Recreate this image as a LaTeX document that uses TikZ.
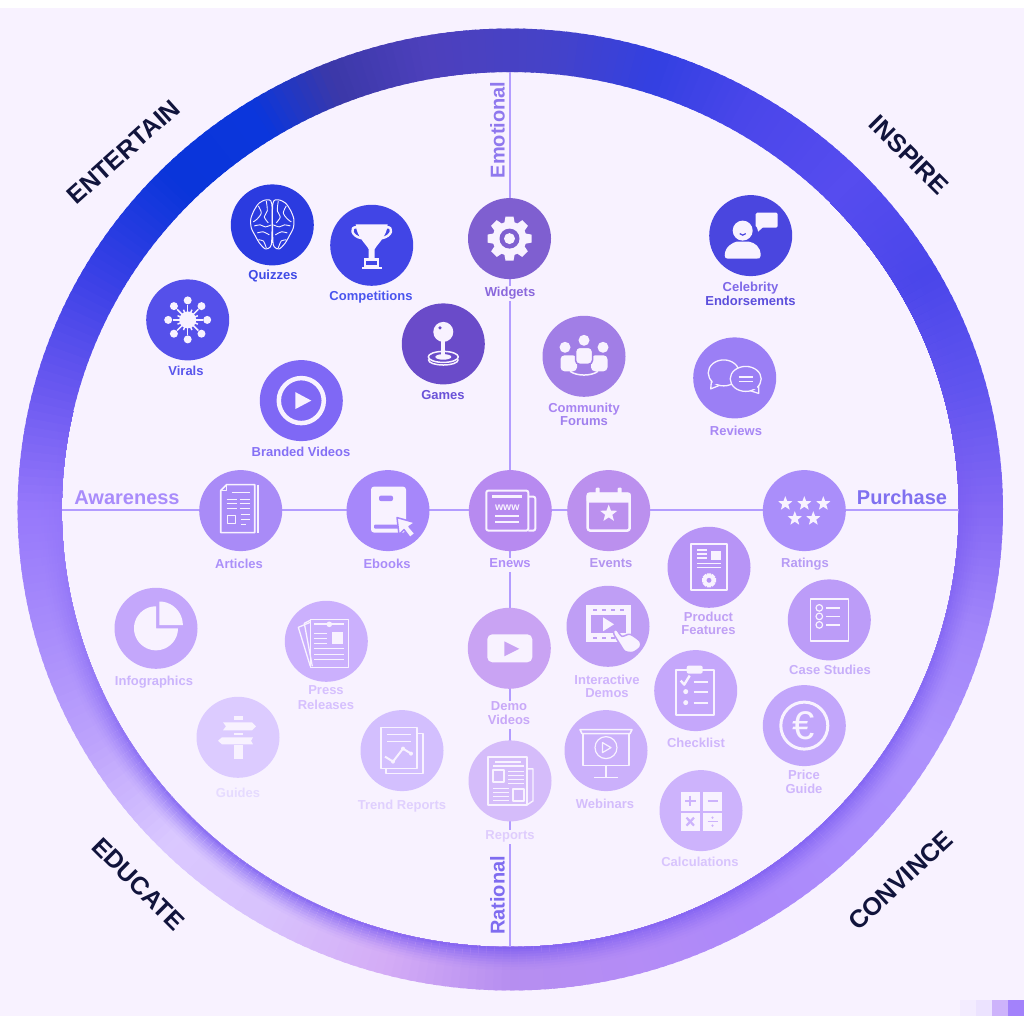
\documentclass[tikz,border=0pt]{standalone}
\usepackage{fontspec}
\usetikzlibrary{shapes.geometric}
\setmainfont{Liberation Sans}
\definecolor{bgc}{HTML}{F8F2FF}
\definecolor{ik}{HTML}{F8F2FF}
\definecolor{axc}{HTML}{B39CFF}
\definecolor{shd}{HTML}{7456F0}
\definecolor{navy}{HTML}{11143C}
\definecolor{r0}{HTML}{8468F4}\definecolor{r15}{HTML}{6054EF}\definecolor{r30}{HTML}{4A46EA}
\definecolor{r45}{HTML}{564CEF}\definecolor{r60}{HTML}{4A46EA}\definecolor{r72}{HTML}{3340E2}
\definecolor{r85}{HTML}{4542C8}\definecolor{r100}{HTML}{4D40BC}\definecolor{r112}{HTML}{3B38A8}
\definecolor{r122}{HTML}{0B36DC}\definecolor{r135}{HTML}{0A35DA}\definecolor{r150}{HTML}{3A40E6}
\definecolor{r165}{HTML}{6A58F0}\definecolor{r180}{HTML}{9678FB}\definecolor{r195}{HTML}{A88CFB}
\definecolor{r210}{HTML}{BDA3FC}\definecolor{r225}{HTML}{DAC8FF}\definecolor{r240}{HTML}{D8C2FD}
\definecolor{r255}{HTML}{D4ACF6}\definecolor{r270}{HTML}{B68EF0}\definecolor{r285}{HTML}{B48CF6}
\definecolor{r300}{HTML}{AC88FA}\definecolor{r315}{HTML}{AC8EFC}\definecolor{r330}{HTML}{AD92FC}
\definecolor{r345}{HTML}{A286FA}
\def\cx{510.3}\def\cy{509.5}
\tikzset{
  bub/.style={ellipse,minimum width=83pt,minimum height=81pt,inner sep=0pt,draw=none,yshift=-0.6pt},
  lab/.style={font=\bfseries\fontsize{13}{13}\selectfont,align=center,fill=bgc,inner sep=0.5pt,yshift=-1.5pt},
  axlab/.style={font=\bfseries\fontsize{20}{20}\selectfont,inner sep=0pt},
  corner/.style={font=\bfseries\fontsize{25}{25}\selectfont,text=navy,inner sep=0pt},
  il/.style={draw=ik,line width=1.3pt,line join=round},
  ifl/.style={fill=ik,draw=none},
  icut/.style={fill=cc,draw=none},
  cutl/.style={draw=cc,line width=1.3pt}
}
\newcommand\bub[4]{\definecolor{cc}{HTML}{#4}\node[bub,fill=cc] (#1) at (#2,#3) {};}
\newcommand\lab[5]{\definecolor{tc}{HTML}{#4}\node[lab,text=tc] (#1) at (#2,#3) {#5};}
\newcommand\stary[3]{\fill[ifl,shift={(#1,#2)},scale=#3] (-90:1)--(-54:.42)--(-18:1)--(18:.42)--(54:1)--(90:.42)--(126:1)--(162:.42)--(198:1)--(234:.42)--cycle;}
\newcommand\minigear[3]{\begin{scope}[shift={(#1,#2)},scale=#3]
  \foreach \a in {0,45,...,315}{\fill[ifl,rotate=\a] (-.3,-1)--(.3,-1)--(.35,-.6)--(-.35,-.6)--cycle;}
  \fill[ifl] (0,0) circle (.75);\fill[icut] (0,0) circle (.35);\end{scope}}
\newcommand\ringcell[2]{% t colour
  \pgfmathsetmacro\ox{448.5+44.2*#1}\pgfmathsetmacro\oy{437.5+43.5*#1}%
  \fill[fill=#2] ({\cx+448.5*\cA},{\cy-437.5*\sA})--({\cx+448.5*\cB},{\cy-437.5*\sB})--({\cx+\ox*\cB},{\cy-\oy*\sB})--({\cx+\ox*\cA},{\cy-\oy*\sA})--cycle;}
\begin{document}
\begin{tikzpicture}[x=1pt,y=-1pt]
\useasboundingbox (0,0) rectangle (1024,1024);
\fill[white] (0,0) rectangle (1024,1024);
\fill[bgc] (0,8) rectangle (1024,1016.3);
% swatches
\definecolor{sw}{HTML}{F3ECFF}\fill[sw] (960,1000) rectangle (976,1016.3);
\definecolor{sw}{HTML}{ECE3FF}\fill[sw] (976,1000) rectangle (992,1016.3);
\definecolor{sw}{HTML}{CDB3FB}\fill[sw] (992,1000) rectangle (1008,1016.3);
\definecolor{sw}{HTML}{A382FB}\fill[sw] (1008,1000) rectangle (1024,1016.3);
% ring
\foreach \aa/\ab/\ca/\cb/\sa/\sb in {0/15/r0/r15/.5/.2,15/30/r15/r30/.2/.1,30/45/r30/r45/.1/0,45/60/r45/r60/0/0,60/72/r60/r72/0/0,72/85/r72/r85/0/0,85/100/r85/r100/0/0,100/112/r100/r112/0/0,112/122/r112/r122/0/0,122/135/r122/r135/0/0,135/150/r135/r150/0/0,150/165/r150/r165/0/0,165/180/r165/r180/0/.1,180/195/r180/r195/.1/.4,195/210/r195/r210/.4/.7,210/225/r210/r225/.7/.9,225/240/r225/r240/.9/.9,240/255/r240/r255/.9/.9,255/270/r255/r270/.9/.9,270/285/r270/r285/.9/.8,285/300/r285/r300/.8/.8,300/315/r300/r315/.8/.8,315/330/r315/r330/.8/.8,330/345/r330/r345/.8/.7,345/360/r345/r0/.7/.5}{
  \pgfmathtruncatemacro\nn{\ab-\aa}
  \foreach \i in {1,...,\nn}{
    \pgfmathsetmacro\frc{(\i-0.5)/\nn}
    \pgfmathsetmacro\Ao{\aa+\i-1}
    \pgfmathsetmacro\Bo{\aa+\i+0.5}
    \pgfmathsetmacro\cA{cos(\Ao)}\pgfmathsetmacro\sA{sin(\Ao)}
    \pgfmathsetmacro\cB{cos(\Bo)}\pgfmathsetmacro\sB{sin(\Bo)}
    \pgfmathsetmacro\pc{100*\frc}
    \pgfmathsetmacro\ss{\sa+(\sb-\sa)*\frc}
    \colorlet{basec}{\cb!\pc!\ca}
    \ringcell{1}{basec}
    \ifdim\ss pt>0.01pt
      \foreach \t/\w in {.52/.04,.46/.1,.4/.18,.34/.28,.28/.38,.22/.49,.16/.6,.1/.72,.05/.85}{
        \pgfmathsetmacro\qq{100*\ss*\w}
        \colorlet{cellc}{shd!\qq!basec}
        \ringcell{\t}{cellc}
      }
    \fi
  }
}
% axes
\coordinate (axT) at (510,72);
\coordinate (axB) at (510,947);
\coordinate (axL) at (62,509.7);
\coordinate (axR) at (959,509.7);
\draw[axc,line width=2pt] (axT) -- (axB);
\draw[axc,line width=2pt] (axL) -- (axR);
% axis labels
\definecolor{tc}{HTML}{A98CFB}\node[axlab,text=tc] (tAware) at (127,497.5) {Awareness};
\definecolor{tc}{HTML}{8070F0}\node[axlab,text=tc] (tPurch) at (902,497.5) {Purchase};
\definecolor{tc}{HTML}{8F78EE}\node[axlab,text=tc,rotate=90] (tEmot) at (497.5,130) {Emotional};
\definecolor{tc}{HTML}{7F6CF0}\node[axlab,text=tc,rotate=90] (tRat) at (497.5,895.5) {Rational};
% corner labels
\node[corner,rotate=42] (tEnt) at (123.5,152) {ENTERTAIN};
\node[corner,rotate=-45] (tIns) at (909,155) {INSPIRE};
\node[corner,rotate=43] (tCon) at (900.5,880.5) {CONVINCE};
\node[corner,rotate=-45] (tEdu) at (138.5,884) {EDUCATE};

% Quizzes
\bub{bQuiz}{272.3}{224.3}{2B3BE0}
\begin{scope}[shift={(bQuiz.center)}]
\foreach \m in {1,-1}{\begin{scope}[xscale=\m]
\draw[il,line width=1pt] plot[smooth cycle] coordinates {(0.5,-21)(6,-25)(13,-22)(18,-15)(21.5,-6)(21,3)(17,11)(13,18)(7,24)(2,22)(0.5,14)};
\draw[il,line width=.9pt] plot[smooth] coordinates {(6,-24)(5,-14)(8,-8)(4,-2)};
\draw[il,line width=.9pt] plot[smooth] coordinates {(14,-19)(11,-12)(15,-6)(19,-3)};
\draw[il,line width=.9pt] plot[smooth] coordinates {(1,0)(7,2)(12,0)(18,1)};
\draw[il,line width=.9pt] plot[smooth] coordinates {(3,10)(9,7)(15,8)};
\draw[il,line width=.9pt] plot[smooth] coordinates {(6,23)(9,16)(14,15)};
\end{scope}}
\draw[il,line width=1pt] (0,-21)--(0,18);
\end{scope}
\lab{lQuiz}{273}{275}{3F4AE6}{\strut Quizzes}
% Competitions
\bub{bComp}{371.7}{244.7}{4145E6}
\begin{scope}[shift={(bComp.center)}]
\fill[ifl] (-16,-21)--(16,-21) .. controls (15,-8) and (6,-2) .. (3,4) -- (3,13) -- (-3,13) -- (-3,4) .. controls (-6,-2) and (-15,-8) .. cycle;
\draw[il,line width=2.4pt] (-15,-18) .. controls (-22,-19) and (-21,-9) .. (-10,-7);
\draw[il,line width=2.4pt] (15,-18) .. controls (22,-19) and (21,-9) .. (10,-7);
\fill[ifl] (-7.5,13) rectangle (7.5,22);\fill[ifl] (-10,21.5) rectangle (10,24);
\fill[icut] (-5.5,15.5) rectangle (5,19.5);
\end{scope}
\lab{lComp}{371}{296}{4A55EE}{\strut Competitions}
% Virals
\bub{bVir}{187.7}{319.3}{5550EA}
\begin{scope}[shift={(bVir.center)}]
\fill[ifl] (0,0) circle (8.5);
\foreach \a in {0,45,...,315}{\draw[il,line width=1.5pt] (0,0)--(\a:15);\fill[ifl] (\a:19.5) circle (4);}
\foreach \a in {22.5,67.5,...,337.5}{\draw[il,line width=1.5pt] (0,0)--(\a:11);}
\end{scope}
\lab{lVir}{186}{371.5}{5A56EC}{\strut Virals}
% Games
\bub{bGame}{443.3}{343.3}{6A4BC9}
\begin{scope}[shift={(bGame.center)}]
\draw[il,line width=1.5pt] (-15,15.5) .. controls (-15,23) and (15,23) .. (15,15.5);
\draw[il,line width=1.5pt,fill=cc] (0,13) ellipse (15 and 5.5);
\fill[ifl] (0,13) ellipse (8 and 2.8);
\fill[ifl] (-2,-4) rectangle (2,13);
\fill[ifl] (0,-12) circle (10);
\fill[icut] (-3.3,-16) circle (1.8);
\end{scope}
\lab{lGame}{443}{395}{6A52D8}{\strut Games}
% Branded Videos
\bub{bBrand}{301.3}{400}{7F68F5}
\begin{scope}[shift={(bBrand.center)}]
\draw[il,line width=4.5pt] (0,0) circle (22.5);
\fill[ifl] (-6,-8.5)--(-6,8.5)--(10,0)--cycle;
\end{scope}
\lab{lBrand}{301}{452.5}{8570F5}{\strut Branded Videos}
% Widgets
\bub{bWid}{509.5}{238}{7F5FD0}
\begin{scope}[shift={(bWid.center)}]
\foreach \a in {0,45,...,315}{\fill[ifl,rotate=\a] (-4,-22)--(4,-22)--(5.5,-14)--(-5.5,-14)--cycle;}
\fill[ifl] (0,0) circle (17);\fill[icut] (0,0) circle (10);\fill[ifl] (0,0) circle (5.5);
\end{scope}
\lab{lWid}{510}{292}{8A68DC}{\strut Widgets}
% Celebrity
\bub{bCel}{750.7}{235}{4A46DF}
\begin{scope}[shift={(bCel.center)}]
\fill[ifl] (-8,-5) circle (10);
\draw[cutl,line width=1.2pt] (-11,-2) .. controls (-9,0) and (-7,0) .. (-5,-2);
\fill[ifl] (-26,20) .. controls (-26,11) and (-18,7) .. (-14,6) -- (-2,6) .. controls (4,7) and (10,11) .. (10,20) .. controls (10,23) and (8,23) .. (6,23) -- (-23,23) .. controls (-25,23) and (-26,22) .. cycle;
\fill[ifl,rounded corners=1.5pt] (5,-23) rectangle (27,-8);
\fill[ifl] (6,-9)--(13,-9)--(7.5,-4)--cycle;
\end{scope}
\lab{lCel}{750.5}{294.5}{5C4FDC}{\strut\textcolor[HTML]{7E68E8}{Celebrity}\\\strut Endorsements}
% Community
\bub{bCom}{584}{355.7}{A17EE6}
\begin{scope}[shift={(bCom.center)}]
\fill[ifl] (0,-16) circle (5.5);\fill[ifl] (-19,-9) circle (5.5);\fill[ifl] (19,-9) circle (5.5);
\fill[ifl,rounded corners=4pt] (-23.5,-1) rectangle (-7,15);
\fill[ifl,rounded corners=4pt] (7,-1) rectangle (23.5,15);
\filldraw[fill=ik,draw=cc,line width=1.5pt,rounded corners=4pt] (-8.5,-9) rectangle (8.5,8);
\draw[il,line width=1.5pt] (-14,15) .. controls (-7,20) and (7,20) .. (14,15);
\end{scope}
\lab{lCom}{584}{415}{A080EE}{\strut\textcolor[HTML]{A884F2}{Community}\\\strut Forums}
% Reviews
\bub{bRev}{734.7}{377.3}{9B7FF5}
\begin{scope}[shift={(bRev.center)}]
\draw[il] (-23,0)--(-24,11)--(-14,7);
\draw[il,fill=cc] (-11,-5) ellipse (15.5 and 13);
\fill[icut] (-22,1)--(-22,7)--(-15,5)--(-14,2)--cycle;
\draw[il] (24,6)--(24,15.5)--(13,12);
\draw[il,fill=cc] (11,1) ellipse (15.5 and 12.5);
\fill[icut] (21,4)--(23,12)--(14,10)--(16,7)--cycle;
\draw[il,line width=1.6pt] (4,-1)--(18,-1);\draw[il,line width=1.6pt] (4,3.5)--(18,3.5);
\end{scope}
\lab{lRev}{736}{431}{A888F5}{\strut Reviews}
% Articles
\bub{bArt}{240.7}{510}{A98BF7}
\begin{scope}[shift={(bArt.center)}]
\draw[il,line width=1.6pt] (-14,-26)--(14,-26)--(14,22)--(-20,22)--(-20,-20)--cycle;
\draw[il,line width=1.2pt] (-20,-20)--(-14,-20)--(-14,-26);
\draw[il,line width=1.6pt] (17,-26)--(17,22);
\draw[il,line width=1.3pt] (-9,-18)--(9,-18);
\foreach \y in {-11,-7,-2}{\draw[il,line width=1.3pt] (-14,\y)--(-4,\y);\draw[il,line width=1.3pt] (-1,\y)--(9,\y);}
\draw[il,line width=1.4pt] (-13,5) rectangle (-5,13);
\foreach \y in {4,9}{\draw[il,line width=1.3pt] (0,\y)--(9,\y);}
\draw[il,line width=1.3pt] (0,14)--(5,14);
\end{scope}
\lab{lArt}{239}{564}{AB90F9}{\strut Articles}
% Ebooks
\bub{bEb}{388}{510}{A687FA}
\begin{scope}[shift={(bEb.center)}]
\fill[ifl,rounded corners=3pt] (-17,-24) rectangle (18,22);
\fill[icut,rounded corners=2pt] (-9,-15) rectangle (5,-9.5);
\fill[icut,rounded corners=1pt] (-14,14) rectangle (12,18);
\filldraw[fill=ik,draw=cc,line width=1.5pt,line join=round] (9,7)--(11,24)--(16,19)--(22,27)--(27,23)--(21,16)--(27,12)--cycle;
\end{scope}
\lab{lEb}{387}{564}{A98CF9}{\strut Ebooks}
% Enews
\bub{bEn}{510.3}{510}{B78AF0}
\begin{scope}[shift={(bEn.center)}]
\draw[il,line width=2pt,rounded corners=2pt] (-24,-20) rectangle (18,20);
\draw[il,line width=2pt,rounded corners=2pt] (18,-14)--(25,-14)--(25,20)--(18,20);
\fill[ifl] (-18,-16) rectangle (12,-13);
\node[text=ik,font=\bfseries\fontsize{10.5}{10.5}\selectfont,inner sep=0pt] (tWww) at (-3,-3) {www};
\fill[ifl] (-15,4) rectangle (9,6.5);\fill[ifl] (-15,10) rectangle (9,12.5);
\end{scope}
\lab{lEn}{510}{563}{B08EF8}{\strut Enews}
% Events
\bub{bEv}{608.7}{510}{BB90EE}
\begin{scope}[shift={(bEv.center)}]
\draw[il,line width=2.5pt,rounded corners=2.5pt] (-21,-17) rectangle (21,20);
\fill[ifl,rounded corners=2pt] (-22,-18) rectangle (22,-8);
\fill[ifl,rounded corners=1pt] (-13,-23) rectangle (-9,-15);
\fill[ifl,rounded corners=1pt] (9,-23) rectangle (13,-15);
\stary{0}{3}{9}
\end{scope}
\lab{lEv}{611}{563}{B394F0}{\strut Events}
% Ratings
\bub{bRat}{804.3}{510}{AA8EFA}
\begin{scope}[shift={(bRat.center)}]
\stary{-19}{-7}{7.5}\stary{0}{-7}{7.5}\stary{19}{-7}{7.5}\stary{-9.5}{8}{7.5}\stary{9}{8}{7.5}
\end{scope}
\lab{lRat}{805}{563}{B79CF5}{\strut Ratings}
% Product Features
\bub{bPro}{709}{566.7}{B794F6}
\begin{scope}[shift={(bPro.center)}]
\draw[il,line width=2pt] (-18,-23) rectangle (18,23);
\foreach \y in {-17,-13,-9}{\draw[il,line width=1.8pt] (-12,\y)--(-2,\y);}
\fill[ifl] (2,-16) rectangle (12,-7);
\draw[il,line width=1.6pt] (-12,-4)--(12,-4);\draw[il,line width=1.6pt] (-12,0)--(12,0);
\minigear{0}{13}{7}
\end{scope}
\lab{lPro}{708.5}{624}{C0A0F5}{\strut Product\\\strut Features}
% Case Studies
\bub{bCase}{829.3}{619.3}{BC9CF8}
\begin{scope}[shift={(bCase.center)}]
\draw[il,line width=1.2pt] (-19,-21) rectangle (19,21);
\foreach \y in {-12,-3.5,5}{\draw[il,line width=1.2pt] (-10,\y) circle (3.3);\draw[il,line width=1.2pt] (-3,\y)--(11,\y);}
\end{scope}
\lab{lCase}{830}{670}{C7AEFA}{\strut Case Studies}
% Interactive Demos
\bub{bInt}{608}{625.7}{BF9EF5}
\begin{scope}[shift={(bInt.center)}]
\fill[ifl] (-22,-21) rectangle (23,16);
\fill[icut] (-17,-11) rectangle (18,7);
\foreach \x in {-15,-6,3,12}{\fill[icut] (\x,-17.5) rectangle (\x+4,-15);\fill[icut] (\x,10.5) rectangle (\x+4,13);}
\fill[ifl] (-5,-9)--(-5,5)--(6,-2)--cycle;
\filldraw[fill=ik,draw=cc,line width=1.5pt] plot[smooth cycle] coordinates {(6,4)(9,4)(14,10)(22,8)(32,15)(32,21)(25,26)(17,25)(12,18)(6,8)};
\end{scope}
\lab{lInt}{607}{687}{CFB4FC}{\strut Interactive\\\strut Demos}
% Checklist
\bub{bChk}{695.7}{690}{C5A7FB}
\begin{scope}[shift={(bChk.center)}]
\draw[il,line width=2pt] (-20,-21) rectangle (18,24);
\fill[ifl,rounded corners=2pt] (-9,-25) rectangle (7,-17);
\draw[il,line width=2.4pt] (-15,-10)--(-11.5,-6)--(-6,-15);
\fill[ifl] (-10,1) circle (2.5);\fill[ifl] (-10,12) circle (2.5);
\foreach \y in {-9,1,12}{\draw[il,line width=2pt] (-2,\y)--(12,\y);}
\end{scope}
\lab{lChk}{696}{743}{D0B6FC}{\strut Checklist}
% Price Guide
\bub{bPri}{804.3}{725}{C2A6FB}
\begin{scope}[shift={(bPri.center)}]
\draw[il,line width=3pt] (0,0) circle (23.5);
\node[text=ik,font=\fontsize{40}{40}\selectfont,inner sep=0pt] (tEuro) at (-.5,0) {€};
\end{scope}
\lab{lPri}{804}{782.5}{CFB6FC}{\strut Price\\\strut Guide}
% Webinars
\bub{bWeb}{606}{750}{CBB0FB}
\begin{scope}[shift={(bWeb.center)}]
\draw[il,line width=1.6pt] (-26,-21) -- (26,-21) -- (24,-17) -- (-24,-17) -- cycle;
\draw[il,line width=1.4pt] (-23,-17) rectangle (23,15);
\draw[il,line width=1.2pt] (0,-3) circle (11);
\draw[il,line width=1.2pt] (-3.5,-8)--(-3.5,2)--(5,-3)--cycle;
\draw[il,line width=1.4pt] (0,15)--(0,27);\draw[il,line width=1.6pt] (-12,27)--(12,27);
\end{scope}
\lab{lWeb}{605}{804}{D4BDFC}{\strut Webinars}
% Calculations
\bub{bCal}{701}{810}{CDB3FC}
\begin{scope}[shift={(bCal.center)}]
\fill[ifl] (-20,-19) rectangle (-1.5,0);\fill[ifl] (2,-19) rectangle (21,0);
\fill[ifl] (-20,2) rectangle (-1.5,20);\fill[ifl] (2,2) rectangle (21,20);
\draw[cutl,line width=2.2pt] (-16,-10)--(-5.5,-10);\draw[cutl,line width=2.2pt] (-10.7,-15)--(-10.7,-5);
\draw[cutl,line width=2.2pt] (6.5,-10)--(16.5,-10);
\draw[cutl,line width=2.2pt] (-14.5,7)--(-7,15);\draw[cutl,line width=2.2pt] (-7,7)--(-14.5,15);
\draw[cutl,line width=1.2pt] (6.5,11)--(16.5,11);\fill[icut] (11.5,7) circle (1.2);\fill[icut] (11.5,15) circle (1.2);
\end{scope}
\lab{lCal}{700}{862}{D8C4FD}{\strut Calculations}
% Infographics
\bub{bInf}{156}{627.7}{C4A7FB}
\begin{scope}[shift={(bInf.center)}]
\fill[ifl] (0,0) -- plot[domain=0:270,samples=50] ({22*cos(\x)},{22*sin(\x)}) -- cycle;
\fill[ifl] (3.3,-3.3) -- plot[domain=-90:0,samples=25] ({3.3+23.5*cos(\x)},{-3.3+23.5*sin(\x)}) -- cycle;
\end{scope}
\lab{lInf}{154}{681}{CBB4FC}{\strut Infographics}
% Press Releases
\bub{bPre}{326.3}{640.7}{CBB0FD}
\begin{scope}[shift={(bPre.center)}]
\draw[il] (-16,-19)--(-28,-14)--(-16,25);
\draw[il] (-16,-21)--(-22,-18)--(-14,25);
\draw[il,line width=1.5pt] (-16,-22) rectangle (22,26);
\draw[il,line width=2.2pt] (-12,-17)--(18,-17);\fill[ifl] (3,-17) circle (2.8);
\foreach \y in {-8,-3,2}{\draw[il,line width=1.3pt] (-12,\y)--(1,\y);}
\fill[ifl] (6,-9) rectangle (17,3);
\foreach \y in {7,13,18}{\draw[il,line width=1.3pt] (-12,\y)--(18,\y);}
\end{scope}
\lab{lPre}{326}{698}{D6C0FE}{\strut Press\\\strut Releases}
% Guides
\bub{bGui}{238}{736.7}{DCCBFF}
\begin{scope}[shift={(bGui.center)}]
\fill[ifl] (-4,-21) rectangle (5,-17);
\fill[ifl] (-15,-15)--(14,-15)--(18,-11)--(14,-7)--(-15,-7)--(-12,-11)--cycle;
\fill[ifl] (-4,-4.5) rectangle (5,-2);
\fill[ifl] (-16,0)--(15,0)--(13,3.5)--(15,7)--(-16,7)--(-20,3.5)--cycle;
\fill[ifl] (-4,8) rectangle (5,22);
\end{scope}
\lab{lGui}{238}{793}{E6DBFF}{\strut Guides}
% Trend Reports
\bub{bTre}{402}{750}{D3BFFE}
\begin{scope}[shift={(bTre.center)}]
\draw[il,line width=1.5pt] (-21,-23) rectangle (15,18);
\draw[il,line width=1.5pt] (15,-17)--(21,-17)--(21,23)--(-16,23)--(-16,18);
\foreach \y in {-16,-9}{\draw[il,line width=1.5pt] (-15,\y)--(9,\y);}
\draw[il,line width=2pt] (-17,6)--(-9,11)--(1,-2)--(9,3);
\fill[ifl] (-9,11) circle (2);\fill[ifl] (1,-2) circle (2);\fill[ifl] (9,3) circle (2);
\end{scope}
\lab{lTre}{402}{805}{E0D0FE}{\strut Trend Reports}
% Demo Videos
\bub{bDem}{509.3}{647.7}{C9A3F3}
\begin{scope}[shift={(bDem.center)}]
\fill[ifl,rounded corners=5pt] (-22,-14) rectangle (23,14);
\fill[icut] (-5,-7)--(-5,8)--(10,.5)--cycle;
\end{scope}
\lab{lDem}{509}{713.5}{C8A8F8}{\strut Demo\\\strut Videos}
% Reports
\bub{bRep}{510}{780.3}{D5BCFA}
\begin{scope}[shift={(bRep.center)}]
\draw[il,line width=1.2pt] (-22,-24) rectangle (17,24);
\draw[il,line width=1.4pt] (18,-12)--(23,-12)--(23,20)--(17,24);
\draw[il,line width=1.2pt] (-15,-19)--(11,-19);\draw[il,line width=1.2pt] (-17,-15)--(14,-15);
\draw[il,line width=1.2pt] (-17,-11) rectangle (-6,1);
\draw[il,line width=1.2pt] (3,8) rectangle (14,20);
\foreach \y in {-9,-5,-1,3}{\draw[il,line width=1pt] (-2,\y)--(14,\y);}
\foreach \y in {8,12,16,20}{\draw[il,line width=1pt] (-17,\y)--(-1,\y);}
\end{scope}
\lab{lRep}{510}{835}{DFCDFD}{\strut Reports}
\end{tikzpicture}
\end{document}
